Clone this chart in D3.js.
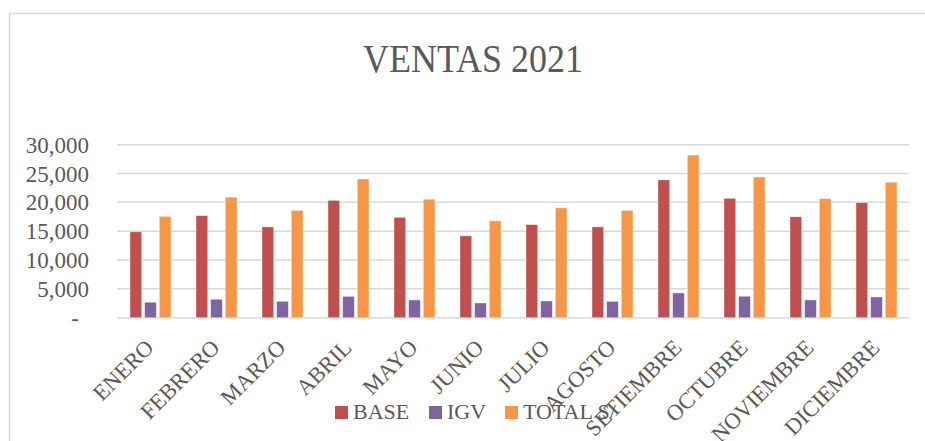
<!DOCTYPE html>
<html>
<head>
<meta charset="utf-8">
<script src="https://cdn.jsdelivr.net/npm/d3@7"></script>
<style>
  html, body { margin: 0; padding: 0; background: #fff; overflow: hidden; }
  svg { display: block; }
  text { font-family: 'Liberation Serif', 'DejaVu Serif', serif; fill: #595959; }
</style>
</head>
<body>
<svg id="chart" width="925" height="441"></svg>
<script>
// Data
const months = ['ENERO', 'FEBRERO', 'MARZO', 'ABRIL', 'MAYO', 'JUNIO', 'JULIO',
  'AGOSTO', 'SETIEMBRE', 'OCTUBRE', 'NOVIEMBRE', 'DICIEMBRE']
const base = [14900, 17700, 15750, 20350, 17400, 14200, 16150, 15750, 23900, 20700, 17500, 19950]
const igv = [2680, 3190, 2840, 3700, 3080, 2550, 2900, 2830, 4300, 3720, 3080, 3600]
const total = [17580, 20900, 18600, 24050, 20550, 16800, 19050, 18600, 28200, 24400, 20650, 23500]
const seriesNames = ['BASE', 'IGV', 'TOTAL S/']
const seriesColors = ['#C0504D', '#8064A2', '#F79646']
const yTicks = [0, 5000, 10000, 15000, 20000, 25000, 30000]

const svg = d3.select('#chart')

// Chart area border: only the top and left edges are inside the window
svg.append('path')
  .attr('d', 'M9.5,441V13.5H925')
  .attr('fill', 'none')
  .attr('stroke', '#d9d9d9')
  .attr('stroke-width', 1.5)

// Title
svg.append('text')
  .attr('x', 473).attr('y', 72)
  .attr('text-anchor', 'middle')
  .attr('textLength', 220)
  .attr('lengthAdjust', 'spacingAndGlyphs')
  .style('font-size', '40px')
  .text('VENTAS 2021')

const plot = { left: 117, right: 909, top: 144.7, bottom: 317.7 }

const x0 = d3.scaleBand()
  .domain(months)
  .range([plot.left, plot.right])
  .paddingInner(0)
  .paddingOuter(0)

const x1 = d3.scaleBand()
  .domain(seriesNames)
  .range([13, x0.bandwidth() - 12])
  .paddingInner(0.2)

const y = d3.scaleLinear()
  .domain([0, 30000])
  .range([plot.bottom, plot.top])

// Gridlines
svg.append('g')
  .selectAll('line')
  .data(yTicks)
  .join('line')
  .attr('x1', plot.left).attr('x2', plot.right)
  .attr('y1', d => y(d)).attr('y2', d => y(d))
  .attr('stroke', '#d9d9d9')
  .attr('stroke-width', 1.5)

// Y axis labels
const fmt = d3.format(',')
svg.append('g')
  .selectAll('text')
  .data(yTicks)
  .join('text')
  .attr('x', d => d === 0 ? 79 : 89)
  .attr('y', d => y(d) + 8)
  .attr('text-anchor', 'end')
  .style('font-size', '23px')
  .text(d => d === 0 ? '-' : fmt(d))

// Bars
const table = months.map((m, i) => ({ month: m, values: [base[i], igv[i], total[i]] }))
const groups = svg.append('g')
  .selectAll('g')
  .data(table)
  .join('g')
  .attr('transform', d => `translate(${x0(d.month)},0)`)

groups.selectAll('rect')
  .data(d => d.values.map((v, k) => ({ key: seriesNames[k], value: v, color: seriesColors[k] })))
  .join('rect')
  .attr('x', d => x1(d.key))
  .attr('y', d => y(d.value))
  .attr('width', x1.bandwidth())
  .attr('height', d => y(0) - y(d.value))
  .attr('fill', d => d.color)
  .attr('stroke', 'rgba(255,255,255,0.5)')
  .attr('stroke-width', 0.8)

// Rotated month labels
svg.append('g')
  .selectAll('text')
  .data(months)
  .join('text')
  .attr('transform', d => `translate(${x0(d) + x0.bandwidth() / 2 + 5},${349}) rotate(-45)`)
  .attr('text-anchor', 'end')
  .style('font-size', '22.5px')
  .text(d => d)

// Legend
const legendX = [335, 429, 505]
const legend = svg.append('g')
  .selectAll('g')
  .data(seriesNames)
  .join('g')
  .attr('transform', (d, i) => `translate(${legendX[i]},406)`)

legend.append('rect')
  .attr('width', 13).attr('height', 13)
  .attr('fill', (d, i) => seriesColors[i])

legend.append('text')
  .attr('x', 18).attr('y', 13)
  .style('font-size', '22px')
  .text(d => d)
</script>
</body>
</html>
